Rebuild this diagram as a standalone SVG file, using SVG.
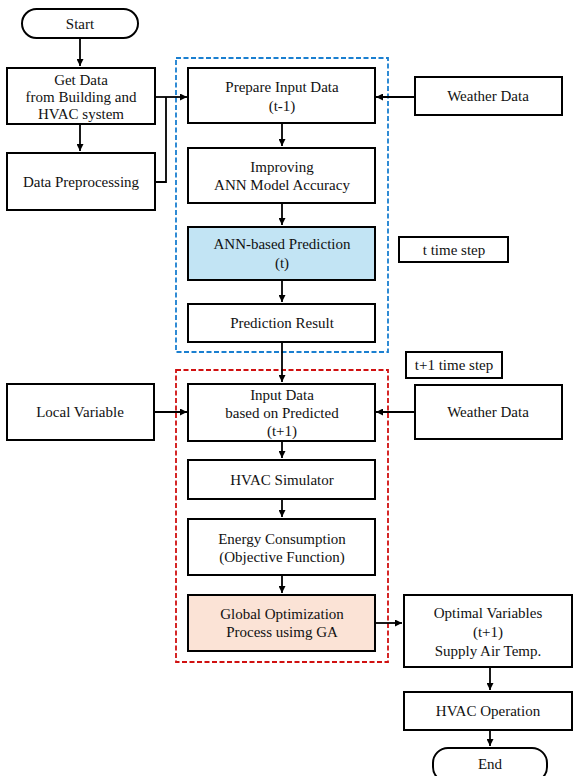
<svg xmlns="http://www.w3.org/2000/svg" width="574" height="776" viewBox="0 0 574 776">
<style>
.n{fill:#fff;stroke:#000;stroke-width:2}
.t{font-size:15px;fill:#111;text-anchor:middle}
.c{fill:none;stroke:#000;stroke-width:1.8}
.g{fill:none;stroke-width:1.8;stroke-dasharray:5,2.5}
</style>
<defs>
<marker id="a" viewBox="0 0 10 10" refX="10" refY="5" markerWidth="7" markerHeight="7" markerUnits="userSpaceOnUse" orient="auto"><path d="M0,0L10,5L0,10z" fill="#000"/></marker>
</defs>
<rect width="574" height="776" fill="#fff"/>
<g id="groups">
<rect class="g" x="176" y="58" width="212" height="294" stroke="#1a7fd0"/>
<rect class="g" x="176" y="370" width="212" height="292" stroke="#d01010"/>
</g>
<g id="connectors">
<path class="c" d="M80,38V66" marker-end="url(#a)"/>
<path class="c" d="M80,124V151" marker-end="url(#a)"/>
<path class="c" d="M155,97H187" marker-end="url(#a)"/>
<path class="c" d="M155,182H166V97"/>
<path class="c" d="M415,97H376" marker-end="url(#a)"/>
<path class="c" d="M282,123V146" marker-end="url(#a)"/>
<path class="c" d="M282,203V225" marker-end="url(#a)"/>
<path class="c" d="M282,280V302" marker-end="url(#a)"/>
<path class="c" d="M282,342V382" marker-end="url(#a)"/>
<path class="c" d="M154,412H187" marker-end="url(#a)"/>
<path class="c" d="M415,412H376" marker-end="url(#a)"/>
<path class="c" d="M282,441V458" marker-end="url(#a)"/>
<path class="c" d="M282,499V517" marker-end="url(#a)"/>
<path class="c" d="M282,575V593" marker-end="url(#a)"/>
<path class="c" d="M375,623H402" marker-end="url(#a)"/>
<path class="c" d="M490,667V690" marker-end="url(#a)"/>
<path class="c" d="M490,730V746" marker-end="url(#a)"/>
</g>
<g font-family="Liberation Serif, Times New Roman, serif">
<g id="start"><rect class="n" x="22" y="9" width="116" height="29" rx="14.5"/><text class="t" x="80" y="29">Start</text></g>
<g id="getdata"><rect class="n" x="7" y="68" width="148" height="56"/><text class="t" x="81" y="85">Get Data</text><text class="t" x="81" y="102">from Building and</text><text class="t" x="81" y="119">HVAC system</text></g>
<g id="preproc"><rect class="n" x="7" y="153" width="148" height="57"/><text class="t" x="81" y="187">Data Preprocessing</text></g>
<g id="prepare"><rect class="n" x="188" y="68" width="187" height="55"/><text class="t" x="282" y="92">Prepare Input Data</text><text class="t" x="282" y="111">(t-1)</text></g>
<g id="weather1"><rect class="n" x="415" y="77" width="147" height="38"/><text class="t" x="488" y="101">Weather Data</text></g>
<g id="improving"><rect class="n" x="188" y="148" width="187" height="55"/><text class="t" x="282" y="172">Improving</text><text class="t" x="282" y="190">ANN Model Accuracy</text></g>
<g id="annpred"><rect class="n" x="188" y="227" width="187" height="53" style="fill:#c2e4f4"/><text class="t" x="282" y="249">ANN-based Prediction</text><text class="t" x="282" y="268">(t)</text></g>
<g id="tstep"><rect class="n" x="399" y="237" width="109" height="25"/><text class="t" x="454" y="255">t time step</text></g>
<g id="predres"><rect class="n" x="188" y="304" width="187" height="38"/><text class="t" x="282" y="328">Prediction Result</text></g>
<g id="t1step"><rect class="n" x="406" y="352" width="96" height="26"/><text class="t" x="454" y="370">t+1 time step</text></g>
<g id="local"><rect class="n" x="7" y="384" width="147" height="56"/><text class="t" x="80" y="417">Local Variable</text></g>
<g id="inputdata"><rect class="n" x="188" y="384" width="187" height="57"/><text class="t" x="282" y="400">Input Data</text><text class="t" x="282" y="418">based on Predicted</text><text class="t" x="282" y="436">(t+1)</text></g>
<g id="weather2"><rect class="n" x="415" y="385" width="147" height="54"/><text class="t" x="488" y="417">Weather Data</text></g>
<g id="hvacsim"><rect class="n" x="188" y="460" width="187" height="39"/><text class="t" x="282" y="485">HVAC Simulator</text></g>
<g id="energy"><rect class="n" x="188" y="519" width="187" height="56"/><text class="t" x="282" y="544">Energy Consumption</text><text class="t" x="282" y="562">(Objective Function)</text></g>
<g id="globalopt"><rect class="n" x="188" y="595" width="187" height="56" style="fill:#fbe3d6"/><text class="t" x="282" y="619">Global Optimization</text><text class="t" x="282" y="637">Process usimg GA</text></g>
<g id="optimal"><rect class="n" x="404" y="595" width="168" height="72"/><text class="t" x="488" y="618">Optimal Variables</text><text class="t" x="488" y="637">(t+1)</text><text class="t" x="488" y="656">Supply Air Temp.</text></g>
<g id="hvacop"><rect class="n" x="404" y="692" width="168" height="38"/><text class="t" x="488" y="716">HVAC Operation</text></g>
<g id="end"><rect class="n" x="433" y="748" width="114" height="34" rx="15"/><text class="t" x="490" y="769">End</text></g>
</g>
</svg>
